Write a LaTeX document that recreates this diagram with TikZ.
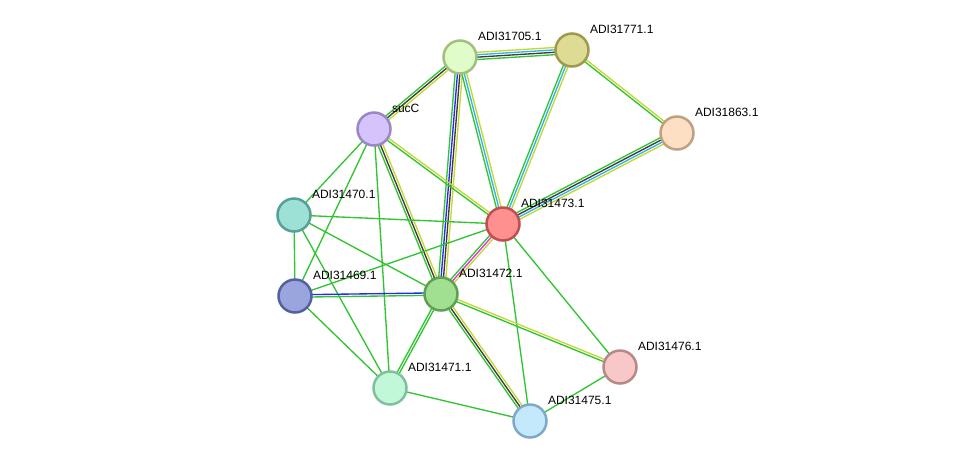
\documentclass[tikz,border=0pt]{standalone}
\usepackage{fontspec}
\setmainfont{Liberation Sans}
\usetikzlibrary{calc,backgrounds}
\definecolor{sgreen}{RGB}{51,196,51}
\definecolor{sblack}{RGB}{60,60,60}
\definecolor{sblue}{RGB}{40,40,240}
\definecolor{scyan}{RGB}{50,180,230}
\definecolor{syellow}{RGB}{196,216,50}
\definecolor{smagenta}{RGB}{230,50,230}

% one parallel line per evidence colour, centred on the centre line
\newcommand{\evlink}[3]{%
  \foreach \ecol [count=\n] in {#3} {\xdef\nev{\n}}%
  \foreach \ecol [count=\k] in {#3} {%
    \pgfmathsetmacro{\off}{(\k-(\nev+1)/2)*2.4}%
    \draw[evline, \ecol] ($(#1)!\off pt!90:(#2)$) -- ($(#2)!\off pt!-90:(#1)$);
  }%
}

\begin{document}
\begin{tikzpicture}[x=1pt, y=-1pt,
    prot/.style={circle, minimum size=33pt, inner sep=0pt, line width=2.5pt},
    lbl/.style={font=\fontsize{12}{14}\selectfont, inner sep=0pt, anchor=south west, xshift=5.3pt, yshift=3.8pt},
    tag/.style={label={[lbl]45:#1}},
    evline/.style={line width=1.35pt}]
  \useasboundingbox (0,0) rectangle (975,467);

  \node[prot, fill={rgb,255:red,224;green,252;blue,200}, draw={rgb,255:red,160;green,192;blue,128}, tag=ADI31705.1] (n705) at (460,57) {};
  \node[prot, fill={rgb,255:red,222;green,219;blue,149}, draw={rgb,255:red,158;green,154;blue,78}, tag=ADI31771.1] (n771) at (572,50) {};
  \node[prot, fill={rgb,255:red,253;green,224;blue,196}, draw={rgb,255:red,192;green,160;blue,128}, tag=ADI31863.1] (n863) at (677,133) {};
  \node[prot, fill={rgb,255:red,213;green,196;blue,251}, draw={rgb,255:red,154;green,134;blue,200}, tag=sucC] (nsuc) at (374,129) {};
  \node[prot, fill={rgb,255:red,157;green,224;blue,214}, draw={rgb,255:red,86;green,160;blue,150}, tag=ADI31470.1] (n470) at (294,215) {};
  \node[prot, fill={rgb,255:red,255;green,144;blue,144}, draw={rgb,255:red,192;green,80;blue,80}, tag=ADI31473.1] (n473) at (503,224) {};
  \node[prot, fill={rgb,255:red,154;green,164;blue,221}, draw={rgb,255:red,85;green,96;blue,160}, tag=ADI31469.1] (n469) at (295,296) {};
  \node[prot, fill={rgb,255:red,160;green,224;blue,144}, draw={rgb,255:red,96;green,160;blue,80}, tag=ADI31472.1] (n472) at (441,294) {};
  \node[prot, fill={rgb,255:red,248;green,200;blue,200}, draw={rgb,255:red,184;green,136;blue,136}, tag=ADI31476.1] (n476) at (620,367) {};
  \node[prot, fill={rgb,255:red,192;green,248;blue,216}, draw={rgb,255:red,128;green,192;blue,160}, tag=ADI31471.1] (n471) at (390,388) {};
  \node[prot, fill={rgb,255:red,196;green,232;blue,252}, draw={rgb,255:red,128;green,168;blue,200}, tag=ADI31475.1] (n475) at (530,421) {};

  \begin{scope}[on background layer]
    \evlink{n705}{n771}{sgreen,sblack,scyan,syellow}
    \evlink{n705}{nsuc}{sgreen,sblack,syellow}
    \evlink{n705}{n472}{sgreen,sblue,sblack,syellow}
    \evlink{n705}{n473}{sgreen,scyan,syellow}
    \evlink{n771}{n473}{sgreen,scyan,syellow}
    \evlink{n771}{n863}{sgreen,syellow}
    \evlink{n863}{n473}{sgreen,sblack,scyan,syellow}
    \evlink{nsuc}{n473}{sgreen,syellow}
    \evlink{nsuc}{n472}{sgreen,sblack,syellow}
    \evlink{nsuc}{n470}{sgreen}
    \evlink{nsuc}{n469}{sgreen}
    \evlink{nsuc}{n471}{sgreen}
    \evlink{n470}{n473}{sgreen}
    \evlink{n470}{n472}{sgreen}
    \evlink{n470}{n469}{sgreen}
    \evlink{n470}{n471}{sgreen}
    \evlink{n469}{n472}{sgreen,sblue}
    \evlink{n469}{n473}{sgreen}
    \evlink{n469}{n471}{sgreen}
    \evlink{n473}{n472}{sgreen,smagenta,syellow}
    \evlink{n473}{n476}{sgreen}
    \evlink{n473}{n475}{sgreen}
    \evlink{n472}{n476}{sgreen,syellow}
    \evlink{n472}{n475}{sgreen,sblack,syellow}
    \evlink{n472}{n471}{sgreen,sgreen}
    \evlink{n471}{n475}{sgreen}
    \evlink{n475}{n476}{sgreen}
  \end{scope}
\end{tikzpicture}
\end{document}
